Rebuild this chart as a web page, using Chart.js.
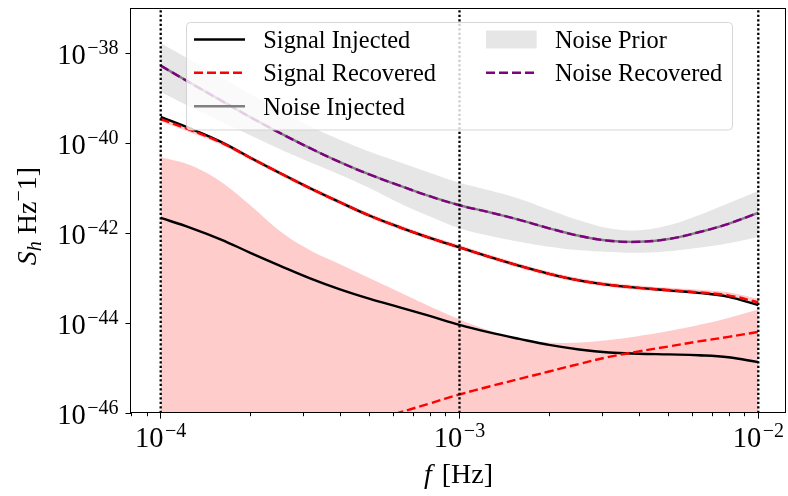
<!DOCTYPE html>
<html>
<head>
<meta charset="utf-8">
<script src="https://cdn.jsdelivr.net/npm/chart.js@4.4.1/dist/chart.umd.min.js"></script>
<style>
  html, body { margin: 0; padding: 0; background: #ffffff; }
  canvas { display: block; }
</style>
</head>
<body>
<canvas id="c" width="788" height="496"></canvas>
<script>
// ---------------- DATA ----------------
// Frequencies (Hz)
const freqs = [1.000e-4, 1.259e-4, 1.585e-4, 1.995e-4, 2.512e-4, 3.162e-4, 3.981e-4, 5.012e-4, 6.310e-4, 7.943e-4,
               1.000e-3, 1.259e-3, 1.585e-3, 1.995e-3, 2.512e-3, 3.162e-3, 3.981e-3, 5.012e-3, 6.310e-3, 7.943e-3, 1.000e-2];

// All series are log10(S_h)
const noiseInjectedLog  = [-38.272, -38.661, -39.040, -39.419, -39.775, -40.109, -40.421, -40.699, -40.944, -41.178, -41.379,
                           -41.535, -41.702, -41.891, -42.058, -42.169, -42.192, -42.129, -41.980, -41.791, -41.546];
const noiseRecoveredLog = [-38.272, -38.661, -39.040, -39.419, -39.775, -40.109, -40.421, -40.699, -40.944, -41.178, -41.379,
                           -41.535, -41.702, -41.891, -42.058, -42.169, -42.192, -42.129, -41.980, -41.791, -41.546];
const noisePriorHighLog = [-37.777, -38.149, -38.528, -38.906, -39.274, -39.619, -39.920, -40.187, -40.421, -40.655, -40.878,
                           -41.045, -41.234, -41.479, -41.713, -41.891, -41.935, -41.824, -41.601, -41.334, -41.060];
const noisePriorLowLog  = [-38.862, -39.196, -39.508, -39.820, -40.131, -40.421, -40.699, -41.000, -41.334, -41.624, -41.891,
                           -42.058, -42.192, -42.303, -42.381, -42.419, -42.437, -42.403, -42.325, -42.225, -42.085];

const signalInjectedALog  = [-39.412, -39.675, -39.964, -40.321, -40.666, -41.000, -41.312, -41.612, -41.869, -42.102, -42.314,
                             -42.526, -42.726, -42.904, -43.049, -43.149, -43.216, -43.272, -43.327, -43.416, -43.600];
const signalRecoveredALog = [-39.463, -39.708, -39.976, -40.321, -40.666, -41.000, -41.312, -41.612, -41.869, -42.102, -42.314,
                             -42.526, -42.726, -42.904, -43.049, -43.149, -43.216, -43.265, -43.316, -43.383, -43.539];
const signalBandALowLog   = [-39.513, -39.758, -40.026, -40.371, -40.716, -41.050, -41.362, -41.662, -41.919, -42.152, -42.364,
                             -42.576, -42.776, -42.954, -43.099, -43.199, -43.266, -43.315, -43.366, -43.433, -43.599];
const signalBandAHighLog  = [-39.413, -39.658, -39.926, -40.271, -40.616, -40.950, -41.262, -41.562, -41.819, -42.052, -42.264,
                             -42.476, -42.676, -42.854, -42.999, -43.099, -43.166, -43.215, -43.256, -43.313, -43.459];

const signalInjectedTLog  = [-41.661, -41.880, -42.136, -42.437, -42.726, -43.004, -43.249, -43.461, -43.650, -43.840, -44.040,
                             -44.207, -44.352, -44.486, -44.586, -44.653, -44.682, -44.697, -44.715, -44.759, -44.869];
const signalRecoveredTLog = [-47.800, -47.550, -47.300, -47.060, -46.830, -46.610, -46.400, -46.190, -45.989, -45.788, -45.588,
                             -45.410, -45.243, -45.076, -44.909, -44.753, -44.630, -44.519, -44.408, -44.307, -44.196];
const signalBandTHighLog  = [-40.303, -40.490, -40.850, -41.379, -41.958, -42.381, -42.693, -43.004, -43.316, -43.628, -43.918,
                             -44.163, -44.352, -44.430, -44.430, -44.374, -44.285, -44.174, -44.040, -43.884, -43.695];

// Vertical reference lines (Hz)
const vlineFreqs = [1e-4, 1e-3, 1e-2];

// Axis ranges and ticks
const xMinLog = -4.0994, xMaxLog = -1.9073;
const yMinLog = -46, yMaxLog = -37.013;
const xTickValues = [1e-4, 1e-3, 1e-2];
const xTickExps   = ['\u22124', '\u22123', '\u22122'];
const xMinorTicks = [8e-5, 9e-5, 2e-4, 3e-4, 4e-4, 5e-4, 6e-4, 7e-4, 8e-4, 9e-4,
                     2e-3, 3e-3, 4e-3, 5e-3, 6e-3, 7e-3, 8e-3, 9e-3];
const yTickValues = [1e-46, 1e-44, 1e-42, 1e-40, 1e-38];
const yTickExps   = ['\u221246', '\u221244', '\u221242', '\u221240', '\u221238'];

const legendCol1 = ['Signal Injected', 'Signal Recovered', 'Noise Injected'];
const legendCol2 = ['Noise Prior', 'Noise Recovered'];

// ---------------- BUILD ----------------
const pts = (logs) => freqs.map((f, i) => ({ x: f, y: Math.pow(10, logs[i]) }));
const yMin = Math.pow(10, yMinLog), yMax = Math.pow(10, yMaxLog);

const SERIF = '"Liberation Serif", "DejaVu Serif", serif';
const DASH = [9, 4];
const LW = 2.4;

const datasets = [
  { data: pts(noisePriorLowLog), borderWidth: 0, borderColor: 'rgba(0,0,0,0)', fill: false, order: 100 },
  { data: pts(noisePriorHighLog), borderWidth: 0, borderColor: 'rgba(0,0,0,0)',
    fill: { target: 0 }, backgroundColor: 'rgba(128,128,128,0.2)', order: 99 },
  { data: pts(signalBandTHighLog), borderWidth: 0, borderColor: 'rgba(0,0,0,0)',
    fill: 'start', backgroundColor: 'rgba(255,0,0,0.2)', order: 98 },
  { data: pts(signalBandALowLog), borderWidth: 0, borderColor: 'rgba(0,0,0,0)', fill: false, order: 97 },
  { data: pts(signalBandAHighLog), borderWidth: 0, borderColor: 'rgba(0,0,0,0)',
    fill: { target: 3 }, backgroundColor: 'rgba(255,0,0,0.2)', order: 96 },
  { data: pts(noiseInjectedLog), borderWidth: LW, borderColor: '#808080', fill: false, order: 90 },
  { data: pts(noiseRecoveredLog), borderWidth: LW, borderColor: '#800080', borderDash: DASH, fill: false, order: 89 },
  { data: pts(signalInjectedALog), borderWidth: LW, borderColor: '#000000', fill: false, order: 80 },
  { data: pts(signalInjectedTLog), borderWidth: LW, borderColor: '#000000', fill: false, order: 79 },
  { data: pts(signalRecoveredALog), borderWidth: LW, borderColor: '#ff0000', borderDash: DASH, fill: false, order: 70 },
  { data: pts(signalRecoveredTLog), borderWidth: LW, borderColor: '#ff0000', borderDash: DASH, fill: false, order: 69 },
];
vlineFreqs.forEach((f, i) => {
  datasets.push({ data: [{ x: f, y: yMin }, { x: f, y: yMax }], borderWidth: 2.3, borderColor: '#000000',
                  borderDash: [2.2, 2.3], fill: false, tension: 0, order: 10 - i });
});

function drawPow(ctx, x, yBase, exp, align) {
  const baseFont = '28.5px ' + SERIF, expFont = '20px ' + SERIF;
  ctx.font = baseFont; const wb = ctx.measureText('10').width;
  ctx.font = expFont; const we = ctx.measureText(exp).width;
  const total = wb + 1.5 + we;
  const x0 = align === 'right' ? x - total : x - total / 2;
  ctx.textAlign = 'left'; ctx.textBaseline = 'alphabetic'; ctx.fillStyle = '#000';
  ctx.font = baseFont; ctx.fillText('10', x0, yBase);
  ctx.font = expFont; ctx.fillText(exp, x0 + wb + 1.5, yBase - 10);
}

function hline(ctx, x1, x2, y, color, width, dash) {
  ctx.save(); ctx.beginPath(); ctx.setLineDash(dash || []);
  ctx.strokeStyle = color; ctx.lineWidth = width; ctx.lineCap = 'butt';
  ctx.moveTo(x1, y); ctx.lineTo(x2, y); ctx.stroke(); ctx.restore();
}

const decor = {
  id: 'decor',
  afterDatasetsDraw(chart) {
    const { ctx, chartArea: a } = chart;
    ctx.save();
    ctx.strokeStyle = '#000'; ctx.lineWidth = 1; ctx.setLineDash([]);
    ctx.strokeRect(a.left - 0.5, a.top - 0.5, a.right - a.left, a.bottom - a.top);
    ctx.restore();
  },
  afterDraw(chart) {
    const { ctx, chartArea: a } = chart;
    const xs = chart.scales.x, ys = chart.scales.y;
    ctx.save();
    yTickValues.forEach((v, i) => drawPow(ctx, a.left - 12.5, ys.getPixelForValue(v) + 11, yTickExps[i], 'right'));
    xTickValues.forEach((v, i) => drawPow(ctx, xs.getPixelForValue(v), 446.7, xTickExps[i], 'center'));

    ctx.fillStyle = '#000'; ctx.textBaseline = 'alphabetic'; ctx.textAlign = 'left';
    ctx.font = 'italic 28px ' + SERIF; const wf = ctx.measureText('f').width;
    ctx.font = '28px ' + SERIF; const wr = ctx.measureText(' [Hz]').width;
    const cx = (a.left + a.right) / 2, x0 = cx - (wf + wr + 3) / 2;
    ctx.font = 'italic 28px ' + SERIF; ctx.fillText('f', x0, 483.3);
    ctx.font = '28px ' + SERIF; ctx.fillText(' [Hz]', x0 + wf + 3, 483.3);

    const pieces = [
      { t: 'S', f: 'italic 28px ', dy: 0 },
      { t: 'h', f: 'italic 20px ', dy: 5 },
      { t: ' Hz', f: '28px ', dy: 0 },
      { t: '\u2212', f: '20px ', dy: -11 },
      { t: '1]', f: '28px ', dy: 0 },
    ];
    let tot = 0;
    pieces.forEach(p => { ctx.font = p.f + SERIF; p.w = ctx.measureText(p.t).width; tot += p.w; });
    ctx.save();
    ctx.translate(36, (a.top + a.bottom) / 2 + 5);
    ctx.rotate(-Math.PI / 2);
    let px = -tot / 2;
    pieces.forEach(p => { ctx.font = p.f + SERIF; ctx.fillText(p.t, px, p.dy); px += p.w; });
    ctx.restore();

    const L = { x: 186.5, y: 22.5, w: 546, h: 107.5, r: 4 };
    ctx.beginPath();
    ctx.roundRect(L.x, L.y, L.w, L.h, L.r);
    ctx.fillStyle = 'rgba(255,255,255,0.8)'; ctx.fill();
    ctx.strokeStyle = 'rgba(204,204,204,0.8)'; ctx.lineWidth = 1; ctx.stroke();

    const rows = [39.5, 72.8, 106.2];
    const h1 = 194, h2 = 245, t1 = 263.3;
    hline(ctx, h1, h2, rows[0], '#000000', LW);
    hline(ctx, h1, h2, rows[1], '#ff0000', LW, DASH);
    hline(ctx, h1, h2, rows[2], '#808080', LW);
    const g1 = 486, g2 = 536.7, t2 = 555;
    ctx.fillStyle = 'rgba(128,128,128,0.2)';
    ctx.fillRect(g1, rows[0] - 9, g2 - g1, 18);
    hline(ctx, g1, g2, rows[1], '#800080', LW, DASH);

    ctx.fillStyle = '#000'; ctx.font = '24.4px ' + SERIF; ctx.textAlign = 'left'; ctx.textBaseline = 'alphabetic';
    legendCol1.forEach((s, i) => ctx.fillText(s, t1, rows[i] + 8.3));
    legendCol2.forEach((s, i) => ctx.fillText(s, t2, rows[i] + 8.3));
    ctx.restore();
  }
};

const tickGrid = (len) => ({ display: true, drawOnChartArea: false, drawTicks: true, tickLength: len,
                              color: '#000', tickColor: '#000', tickWidth: 1, lineWidth: 1 });

new Chart(document.getElementById('c').getContext('2d'), {
  type: 'line',
  data: { datasets },
  options: {
    responsive: false, animation: false, devicePixelRatio: 1,
    layout: { padding: { left: 0, right: 2, top: 9, bottom: 0 } },
    plugins: { legend: { display: false }, tooltip: { enabled: false } },
    elements: { point: { radius: 0, hoverRadius: 0 }, line: { tension: 0.4, borderCapStyle: 'butt' } },
    scales: {
      x: {
        type: 'logarithmic', position: 'bottom', weight: 1,
        min: Math.pow(10, xMinLog), max: Math.pow(10, xMaxLog),
        grid: tickGrid(5.7), border: { display: false },
        ticks: { display: false },
        afterBuildTicks: (s) => { s.ticks = xTickValues.map(v => ({ value: v })); },
        afterFit: (s) => { s.height = 83; }
      },
      x2: {
        type: 'logarithmic', position: 'bottom', weight: 0,
        min: Math.pow(10, xMinLog), max: Math.pow(10, xMaxLog),
        grid: tickGrid(3.2), border: { display: false },
        ticks: { display: false },
        afterBuildTicks: (s) => { s.ticks = xMinorTicks.map(v => ({ value: v })); },
        afterFit: (s) => { s.height = 0; }
      },
      y: {
        type: 'logarithmic', position: 'left',
        min: yMin, max: yMax,
        grid: tickGrid(5.5), border: { display: false },
        ticks: { display: false },
        afterBuildTicks: (s) => { s.ticks = yTickValues.map(v => ({ value: v })); },
        afterFit: (s) => { s.width = 131; }
      }
    }
  },
  plugins: [decor]
});
</script>
</body>
</html>
